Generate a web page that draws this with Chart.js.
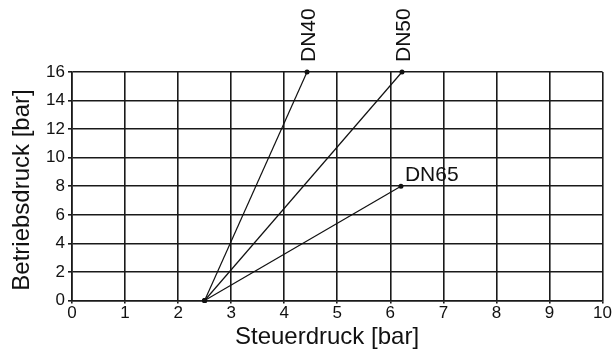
<!DOCTYPE html>
<html>
<head>
<meta charset="utf-8">
<script src="https://cdn.jsdelivr.net/npm/chart.js@4"></script>
<style>
  html, body { margin: 0; padding: 0; background: #fff; }
  #wrap { width: 612px; height: 351px; }
</style>
</head>
<body>
<div id="wrap"><canvas id="chart" width="612" height="351"></canvas></div>
<script>
/*************************
 DATA
**************************/
const seriesNames = ["DN40", "DN50", "DN65"];
const startX = [2.5, 2.5, 2.5];
const startY = [0, 0, 0];
const endX = [4.43, 6.22, 6.2];
const endY = [16, 16, 8];
// which labels stand upright
const labelRotated = [true, true, false];

const xTicks = [0, 1, 2, 3, 4, 5, 6, 7, 8, 9, 10];
const yTicks = [0, 2, 4, 6, 8, 10, 12, 14, 16];

const xTitle = "Steuerdruck [bar]";
const yTitle = "Betriebsdruck [bar]";

const FONT = "'Liberation Sans', Arial, sans-serif";
const INK = "#111";
const GRID = "#1a1a1a";

/*************************
 DATASETS
**************************/
const datasets = seriesNames.map((name, i) => ({
  label: name,
  data: [
    { x: startX[i], y: startY[i] },
    { x: endX[i], y: endY[i] }
  ],
  borderColor: INK,
  backgroundColor: INK,
  borderWidth: 1.2,
  pointRadius: 2.5,
  pointBorderWidth: 0,
  showLine: true,
  clip: false
}));

/*************************
 LABELS + AXIS TITLES
**************************/
const textPlugin = {
  id: "textPlugin",
  afterDatasetsDraw(chart) {
    const ctx = chart.ctx;
    ctx.save();
    ctx.fillStyle = INK;

    // series names at the line ends
    ctx.font = "21px " + FONT;
    seriesNames.forEach((name, i) => {
      const pt = chart.getDatasetMeta(i).data[1];
      if (labelRotated[i]) {
        ctx.save();
        ctx.translate(pt.x + 8, pt.y - 10);
        ctx.rotate(-Math.PI / 2);
        ctx.textAlign = "left";
        ctx.textBaseline = "alphabetic";
        ctx.fillText(name, 0, 0);
        ctx.restore();
      } else {
        ctx.textAlign = "left";
        ctx.textBaseline = "alphabetic";
        ctx.fillText(name, pt.x + 4, pt.y - 5);
      }
    });

    // axis titles
    ctx.font = "24px " + FONT;
    ctx.textAlign = "center";
    ctx.textBaseline = "middle";
    ctx.fillText(xTitle, 327, 337);

    ctx.save();
    ctx.translate(22, 190);
    ctx.rotate(-Math.PI / 2);
    ctx.fillText(yTitle, 0, 0);
    ctx.restore();

    ctx.restore();
  }
};

/*************************
 CHART
**************************/
const chart = new Chart(document.getElementById("chart").getContext("2d"), {
  type: "scatter",
  data: { datasets },
  options: {
    responsive: false,
    animation: false,
    events: [],
    layout: { padding: { top: 72, right: 9, left: 0, bottom: 0 } },
    plugins: {
      legend: { display: false },
      tooltip: { enabled: false }
    },
    scales: {
      x: {
        type: "linear",
        min: 0,
        max: 10,
        afterBuildTicks: (s) => { s.ticks = xTicks.map(v => ({ value: v })); },
        afterFit: (s) => { s.height = 50.5; },
        ticks: {
          color: INK,
          font: { family: FONT, size: 17 },
          padding: 0,
          maxRotation: 0,
          autoSkip: false
        },
        grid: { color: GRID, lineWidth: 1.6, tickLength: 3 },
        border: { color: GRID, width: 1.6 }
      },
      y: {
        type: "linear",
        min: 0,
        max: 16,
        afterBuildTicks: (s) => { s.ticks = yTicks.map(v => ({ value: v })); },
        afterFit: (s) => { s.width = 72; },
        ticks: {
          color: INK,
          font: { family: FONT, size: 17 },
          padding: 3,
          autoSkip: false
        },
        grid: { color: GRID, lineWidth: 1.6, tickLength: 4 },
        border: { color: GRID, width: 1.6 }
      }
    }
  },
  plugins: [textPlugin]
});
</script>
</body>
</html>
